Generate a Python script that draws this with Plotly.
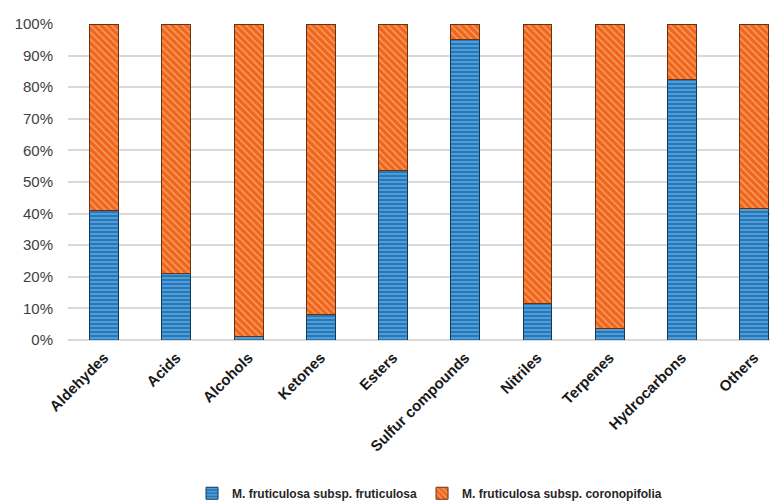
import plotly.graph_objects as go

categories = ["Aldehydes", "Acids", "Alcohols", "Ketones", "Esters",
              "Sulfur compounds", "Nitriles", "Terpenes", "Hydrocarbons", "Others"]
fruticulosa = [41.0, 21.0, 1.0, 8.0, 53.5, 95.0, 11.5, 3.5, 82.5, 41.5]
coronopifolia = [100 - v for v in fruticulosa]
series_names = ["M. fruticulosa subsp. fruticulosa", "M. fruticulosa subsp. coronopifolia"]
y_ticks = [0, 10, 20, 30, 40, 50, 60, 70, 80, 90, 100]
y_ticklabels = [f"{t}%" for t in y_ticks]

FONT = "Liberation Sans, Arial, sans-serif"

fig = go.Figure()
fig.add_trace(go.Bar(
    x=categories, y=fruticulosa, name=series_names[0], width=0.4,
    marker=dict(color="#2479bd", line=dict(color="#123a5c", width=1),
                pattern=dict(shape="-", fgcolor="#a8dcf8", size=4, solidity=0.35)),
))
fig.add_trace(go.Bar(
    x=categories, y=coronopifolia, name=series_names[1], width=0.4,
    marker=dict(color="#f0661a", line=dict(color="#6b3010", width=1),
                pattern=dict(shape="\\", fgcolor="#fcd3b5", size=5, solidity=0.3)),
))

fig.update_layout(
    barmode="stack",
    width=771, height=496,
    margin=dict(l=60, r=9, t=16, b=164, autoexpand=False),
    paper_bgcolor="white", plot_bgcolor="white",
    font=dict(family=FONT, color="#262626"),
    showlegend=True,
    legend=dict(orientation="h", x=0.515, xanchor="center", y=-0.485, yanchor="middle",
                font=dict(size=12, color="#262626", family=FONT, weight="bold"),
                traceorder="normal", itemwidth=30),
)
fig.update_xaxes(
    range=[-0.5, 9.22], tickangle=-45, showgrid=False, automargin=False,
    tickfont=dict(size=15, family=FONT, color="#1a1a1a", weight="bold"),
    ticks="", showline=False, ticklabelstandoff=5,
)
fig.update_yaxes(
    range=[0, 100], tickvals=y_ticks, ticktext=y_ticklabels, automargin=False,
    showgrid=True, gridcolor="#d9d9d9", gridwidth=1.5,
    tickfont=dict(size=15, color="#404040"), zeroline=True, zerolinecolor="#d9d9d9",
    zerolinewidth=1.5, ticks="", ticklabelstandoff=14,
)

fig.write_html("out.html")
